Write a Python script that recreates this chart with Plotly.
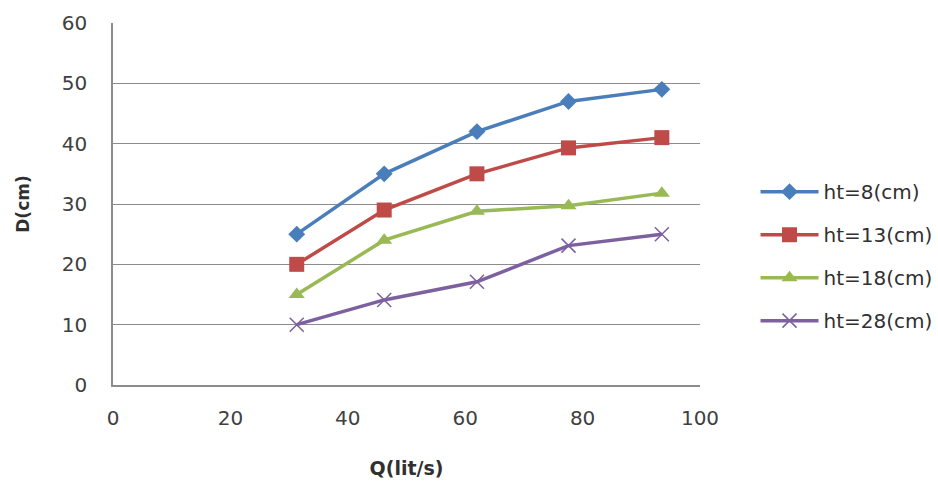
import plotly.graph_objects as go

q = [31.3, 46.2, 62.0, 77.6, 93.5]
series_names = ["ht=8(cm)", "ht=13(cm)", "ht=18(cm)", "ht=28(cm)"]
d_ht8 = [25, 35, 42, 47, 49]
d_ht13 = [20, 29, 35, 39.3, 41]
d_ht18 = [15, 24, 28.8, 29.7, 31.8]
d_ht28 = [10, 14.1, 17.1, 23.1, 25]
x_ticks = [0, 20, 40, 60, 80, 100]
y_ticks = [0, 10, 20, 30, 40, 50, 60]

colors = ["#4A7EBB", "#BE4B48", "#98B954", "#7D60A0"]
symbols = ["diamond", "square", "triangle-up", "x-thin"]
sizes = [13, 15, 14, 14]
values = [d_ht8, d_ht13, d_ht18, d_ht28]

fig = go.Figure()
for name, ys, c, s, sz in zip(series_names, values, colors, symbols, sizes):
    marker = dict(symbol=s, size=sz, color=c)
    if s == "x-thin":
        marker["line"] = dict(color=c, width=1.5)
    fig.add_trace(go.Scatter(
        x=q, y=ys, name=name, mode="lines+markers",
        line=dict(color=c, width=3.5), marker=marker, legendgroup=name,
    ))

fig.update_layout(
    width=938, height=481,
    margin=dict(l=113, r=238, t=23, b=96, autoexpand=False),
    paper_bgcolor="white", plot_bgcolor="white",
    font=dict(family="DejaVu Sans, sans-serif", size=20, color="#404040"),
    showlegend=True,
    legend=dict(x=1.0946, y=0.356, xanchor="left", yanchor="middle",
                itemwidth=58, tracegroupgap=14, traceorder="grouped",
                font=dict(size=20, color="#303030"), bgcolor="rgba(0,0,0,0)"),
    xaxis=dict(range=[0, 100], tickvals=x_ticks, showgrid=False, zeroline=False,
               showline=True, linecolor="#8C8C8C", linewidth=1.5,
               ticks="outside", ticklen=14, tickcolor="rgba(0,0,0,0)",
               title=dict(text="<b>Q(lit/s)</b>", font=dict(size=19, color="#303030"), standoff=33)),
    yaxis=dict(range=[0, 60], tickvals=y_ticks, showgrid=True, gridcolor="#8C8C8C", gridwidth=1,
               zeroline=False, showline=True, linecolor="#8C8C8C", linewidth=1.5,
               ticks="outside", ticklen=20, tickcolor="rgba(0,0,0,0)",
               title=dict(text="<b>D(cm)</b>", font=dict(size=17, color="#303030"), standoff=28)),
)
fig.write_html("out.html")
